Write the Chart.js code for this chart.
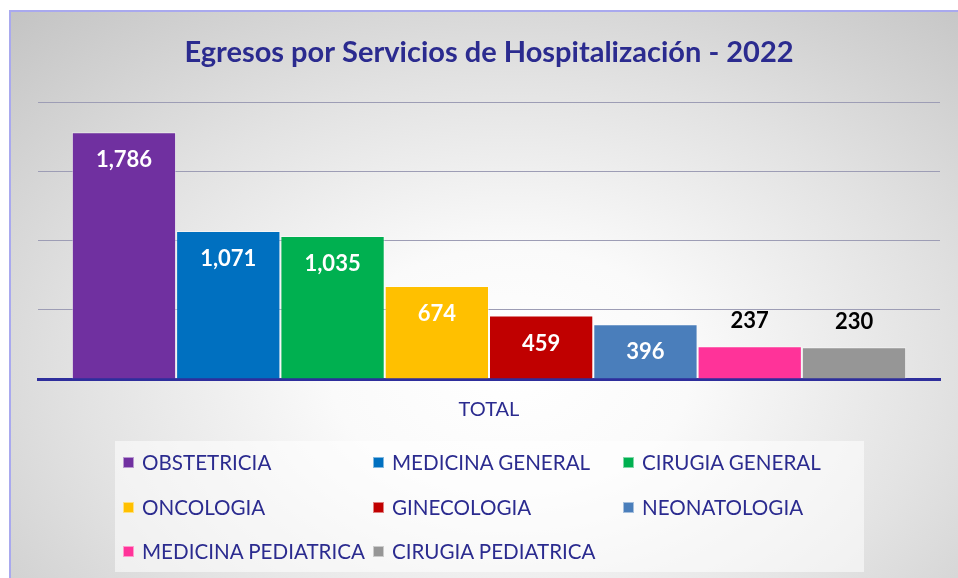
<!DOCTYPE html>
<html>
<head>
<meta charset="utf-8">
<script src="https://cdn.jsdelivr.net/npm/chart.js@4/dist/chart.umd.min.js"></script>
<style>
  html, body { margin: 0; padding: 0; width: 958px; height: 578px; overflow: hidden; background: #ffffff; }
  #frame {
    position: absolute; left: 9px; top: 10px; width: 960px; height: 580px;
    border-left: 2px solid #a9a9ee; border-top: 2px solid #a9a9ee;
    background: radial-gradient(ellipse 75% 85% at 52% 62%, #ffffff 0%, #fafafa 25%, #e2e2e2 60%, #c4c4c4 100%);
  }
  #chartBox { position: absolute; left: 0; top: 0; width: 958px; height: 451px; }
  #legend {
    position: absolute; left: 115px; top: 441px; width: 749px; height: 131px;
    background: rgba(255,255,255,0.55);
    font-family: Lato, "Open Sans", sans-serif; font-size: 20.6px; color: #2b2b8f;
  }
  .item { position: absolute; display: flex; align-items: center; white-space: nowrap; }
  .sw { width: 11px; height: 11px; margin-right: 8px; box-sizing: border-box; border: 1px solid rgba(255,255,255,0.5); }
</style>
</head>
<body>
<div id="frame"></div>
<div id="chartBox"><canvas id="c" width="958" height="451"></canvas></div>
<div id="legend"></div>
<script>
const categories = ["TOTAL"];
const services = ["OBSTETRICIA", "MEDICINA GENERAL", "CIRUGIA GENERAL", "ONCOLOGIA", "GINECOLOGIA", "NEONATOLOGIA", "MEDICINA PEDIATRICA", "CIRUGIA PEDIATRICA"];
const values = [1786, 1071, 1035, 674, 459, 396, 237, 230];
const colors = ["#7030a0", "#0070c0", "#00b050", "#ffc000", "#c00000", "#4a7ebb", "#ff3399", "#969696"];
const titleText = "Egresos por Servicios de Hospitalización - 2022";

const FONT = "Lato, 'Open Sans', sans-serif";
const NAVY = "#2b2b8f";

const datasets = services.map((s, i) => ({
  label: s,
  data: [values[i]],
  backgroundColor: colors[i],
  borderColor: "rgba(255,255,255,0.45)",
  borderWidth: 1,
  categoryPercentage: 0.925,
  barPercentage: 1.0
}));

const labelPlugin = {
  id: "valueLabels",
  afterDatasetsDraw(chart) {
    const ctx = chart.ctx;
    ctx.save();
    ctx.font = "bold 22px " + FONT;
    ctx.textAlign = "center";
    ctx.textBaseline = "middle";
    chart.data.datasets.forEach((ds, i) => {
      const meta = chart.getDatasetMeta(i);
      meta.data.forEach((bar, j) => {
        const v = ds.data[j];
        const txt = v.toLocaleString("en-US");
        if (v < 300) {
          ctx.fillStyle = "#000000";
          ctx.fillText(txt, bar.x, bar.y - 25);
        } else {
          ctx.fillStyle = "#ffffff";
          ctx.fillText(txt, bar.x, bar.y + 28);
        }
      });
    });
    ctx.restore();
  }
};

const chart = new Chart(document.getElementById("c"), {
  type: "bar",
  data: { labels: categories, datasets },
  options: {
    responsive: false,
    animation: false,
    layout: { padding: { left: 38, right: 18, top: 35, bottom: 10 } },
    plugins: {
      legend: { display: false },
      tooltip: { enabled: false },
      title: {
        display: true, text: titleText, color: NAVY,
        font: { family: FONT, size: 29, weight: "bold" },
        padding: { top: 0, bottom: 33 }
      }
    },
    scales: {
      x: {
        grid: { display: false, drawTicks: false },
        border: { display: true, color: "#2e2e9c", width: 3 },
        ticks: { color: NAVY, font: { family: FONT, size: 20 }, padding: 19 }
      },
      y: {
        min: 0, max: 2000,
        ticks: { display: false, stepSize: 500 },
        grid: { color: "#9d9db5", lineWidth: 1, drawTicks: false },
        border: { display: false }
      }
    }
  },
  plugins: [labelPlugin]
});

const legend = document.getElementById("legend");
const colX = [8, 258, 508];
const rowY = [9, 54, 98];
services.forEach((s, i) => {
  const el = document.createElement("div");
  el.className = "item";
  el.style.left = colX[i % 3] + "px";
  el.style.top = rowY[Math.floor(i / 3)] + "px";
  el.innerHTML = '<span class="sw" style="background:' + colors[i] + '"></span><span></span>';
  el.lastChild.textContent = s;
  legend.appendChild(el);
});
</script>
</body>
</html>
